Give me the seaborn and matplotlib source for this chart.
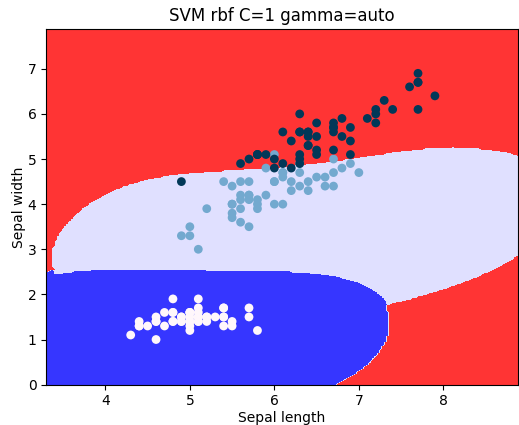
import numpy as np
import pandas as pd
import matplotlib
matplotlib.use("Agg")
import matplotlib.pyplot as plt
from matplotlib.colors import ListedColormap
import seaborn as sns

# Iris data: sepal length (x) and petal length (y), class labels
sepal_length = [
    5.1, 4.9, 4.7, 4.6, 5.0, 5.4, 4.6, 5.0, 4.4, 4.9, 5.4, 4.8, 4.8, 4.3, 5.8, 5.7, 5.4, 5.1, 5.7, 5.1,
    5.4, 5.1, 4.6, 5.1, 4.8, 5.0, 5.0, 5.2, 5.2, 4.7, 4.8, 5.4, 5.2, 5.5, 4.9, 5.0, 5.5, 4.9, 4.4, 5.1,
    5.0, 4.5, 4.4, 5.0, 5.1, 4.8, 5.1, 4.6, 5.3, 5.0,
    7.0, 6.4, 6.9, 5.5, 6.5, 5.7, 6.3, 4.9, 6.6, 5.2, 5.0, 5.9, 6.0, 6.1, 5.6, 6.7, 5.6, 5.8, 6.2, 5.6,
    5.9, 6.1, 6.3, 6.1, 6.4, 6.6, 6.8, 6.7, 6.0, 5.7, 5.5, 5.5, 5.8, 6.0, 5.4, 6.0, 6.7, 6.3, 5.6, 5.5,
    5.5, 6.1, 5.8, 5.0, 5.6, 5.7, 5.7, 6.2, 5.1, 5.7,
    6.3, 5.8, 7.1, 6.3, 6.5, 7.6, 4.9, 7.3, 6.7, 7.2, 6.5, 6.4, 6.8, 5.7, 5.8, 6.4, 6.5, 7.7, 7.7, 6.0,
    6.9, 5.6, 7.7, 6.3, 6.7, 7.2, 6.2, 6.1, 6.4, 7.2, 7.4, 7.9, 6.4, 6.3, 6.1, 7.7, 6.3, 6.4, 6.0, 6.9,
    6.7, 6.9, 5.8, 6.8, 6.7, 6.7, 6.3, 6.5, 6.2, 5.9,
]
petal_length = [
    1.4, 1.4, 1.3, 1.5, 1.4, 1.7, 1.4, 1.5, 1.4, 1.5, 1.5, 1.6, 1.4, 1.1, 1.2, 1.5, 1.3, 1.4, 1.7, 1.5,
    1.7, 1.5, 1.0, 1.7, 1.9, 1.6, 1.6, 1.5, 1.4, 1.6, 1.6, 1.5, 1.5, 1.4, 1.5, 1.2, 1.3, 1.4, 1.3, 1.5,
    1.3, 1.3, 1.3, 1.6, 1.9, 1.4, 1.6, 1.4, 1.5, 1.4,
    4.7, 4.5, 4.9, 4.0, 4.6, 4.5, 4.7, 3.3, 4.6, 3.9, 3.5, 4.2, 4.0, 4.7, 3.6, 4.4, 4.5, 4.1, 4.5, 3.9,
    4.8, 4.0, 4.9, 4.7, 4.3, 4.4, 4.8, 5.0, 4.5, 3.5, 3.8, 3.7, 3.9, 5.1, 4.5, 4.5, 4.7, 4.4, 4.1, 4.0,
    4.4, 4.6, 4.0, 3.3, 4.2, 4.2, 4.2, 4.3, 3.0, 4.1,
    6.0, 5.1, 5.9, 5.6, 5.8, 6.6, 4.5, 6.3, 5.8, 6.1, 5.1, 5.3, 5.5, 5.0, 5.1, 5.3, 5.5, 6.7, 6.9, 5.0,
    5.7, 4.9, 6.7, 4.9, 5.7, 6.0, 4.8, 4.9, 5.6, 5.8, 6.1, 6.4, 5.6, 5.1, 5.6, 6.1, 5.6, 5.5, 4.8, 5.4,
    5.6, 5.1, 5.1, 5.9, 5.7, 5.2, 5.0, 5.2, 5.4, 5.1,
]
species = [0] * 50 + [1] * 50 + [2] * 50

title = "SVM rbf C=1 gamma=auto"
x_label = "Sepal length"
y_label = "Sepal width"

C_param = 1.0
gamma = 0.5  # 'auto' = 1 / n_features

region_colors = ["#3636ff", "#e0e0ff", "#ff3434"]


def rbf(A, B, g):
    d = (A ** 2).sum(1)[:, None] + (B ** 2).sum(1)[None, :] - 2 * A @ B.T
    return np.exp(-g * d)


def train_binary(X, y, C=1.0, g=0.5, tol=1e-3, max_iter=200000):
    n = len(y)
    K = rbf(X, X, g)
    a = np.zeros(n)
    f = np.zeros(n)
    v = y.copy()
    i = j = 0
    for _ in range(max_iter):
        E = f - y
        v = -E
        up = ((a < C) & (y > 0)) | ((a > 0) & (y < 0))
        low = ((a < C) & (y < 0)) | ((a > 0) & (y > 0))
        iu = np.where(up)[0]
        il = np.where(low)[0]
        i = iu[np.argmax(v[iu])]
        j = il[np.argmin(v[il])]
        if v[i] - v[j] < tol:
            break
        eta = max(K[i, i] + K[j, j] - 2 * K[i, j], 1e-12)
        ai, aj = a[i], a[j]
        if y[i] != y[j]:
            L, H = max(0.0, aj - ai), min(C, C + aj - ai)
        else:
            L, H = max(0.0, ai + aj - C), min(C, ai + aj)
        aj_new = min(max(aj + y[j] * (E[i] - E[j]) / eta, L), H)
        ai_new = ai + y[i] * y[j] * (aj - aj_new)
        f += (ai_new - ai) * y[i] * K[:, i] + (aj_new - aj) * y[j] * K[:, j]
        a[i], a[j] = ai_new, aj_new
    free = (a > 1e-8) & (a < C - 1e-8)
    if free.any():
        b = np.mean((y - f)[free])
    else:
        b = (v[i] + v[j]) / 2
    return a, b


X = np.column_stack([sepal_length, petal_length]).astype(float)
Y = np.array(species)

x_min, x_max = X[:, 0].min() - 1, X[:, 0].max() + 1
y_min, y_max = X[:, 1].min() - 1, X[:, 1].max() + 1
h = (x_max / x_min) / 100
xx, yy = np.meshgrid(np.arange(x_min, x_max, h), np.arange(y_min, y_max, h))
grid = np.c_[xx.ravel(), yy.ravel()]

votes = np.zeros((grid.shape[0], 3))
for ci in range(3):
    for cj in range(ci + 1, 3):
        m = (Y == ci) | (Y == cj)
        Xp = X[m]
        yp = np.where(Y[m] == ci, 1.0, -1.0)
        a, b = train_binary(Xp, yp, C_param, gamma)
        sv = a > 1e-8
        dec = rbf(grid, Xp[sv], gamma) @ (a[sv] * yp[sv]) + b
        votes[dec > 0, ci] += 1
        votes[dec <= 0, cj] += 1
Z = np.argmax(votes, axis=1).reshape(xx.shape)

fig = plt.figure(figsize=(5.19, 4.25), dpi=100)
ax = fig.add_axes([0.089, 0.095, 0.909, 0.836])
ax.contourf(xx, yy, Z, levels=[-0.5, 0.5, 1.5, 2.5],
            cmap=ListedColormap(region_colors))

df = pd.DataFrame({"x": sepal_length, "y": petal_length, "species": species})
cm = plt.cm.PuBu
palette = {0: cm(0.0), 1: cm(0.5), 2: cm(1.0)}
sns.scatterplot(data=df, x="x", y="y", hue="species", palette=palette,
                legend=False, linewidth=0, s=40, ax=ax)

ax.set_xlim(xx.min(), xx.max())
ax.set_ylim(yy.min(), yy.max())
ax.set_xlabel(x_label, labelpad=2)
ax.set_ylabel(y_label, labelpad=1)
ax.set_title(title)
fig.savefig("out.png", dpi=100)
